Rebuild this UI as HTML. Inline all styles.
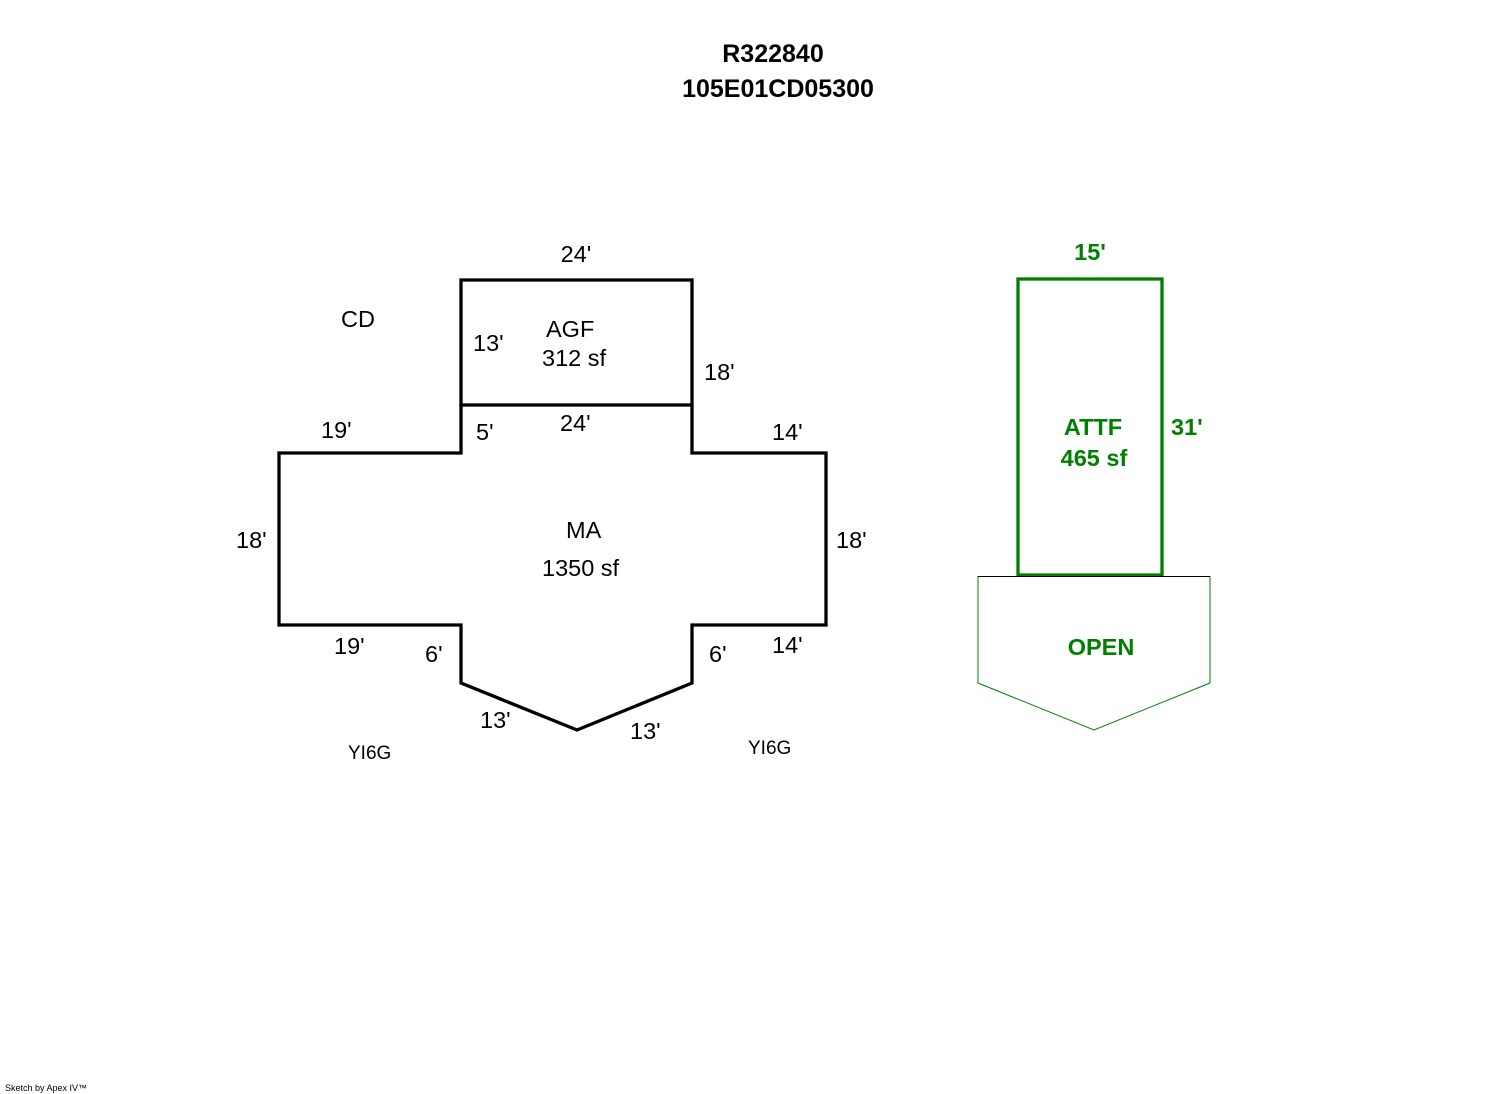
<!DOCTYPE html>
<html><head><meta charset="utf-8"><style>
html,body{margin:0;padding:0;background:#fff;}
svg{display:block;}
text{font-family:"Liberation Sans",Arial,sans-serif;}
</style></head><body>
<svg width="1492" height="1094" viewBox="0 0 1492 1094" xmlns="http://www.w3.org/2000/svg">
<rect width="1492" height="1094" fill="#fff"/>
<text x="773" y="62" font-size="25" font-weight="bold" text-anchor="middle">R322840</text>
<text x="778" y="97" font-size="25" font-weight="bold" text-anchor="middle">105E01CD05300</text>

<g fill="none" stroke="#000" stroke-width="3.3" stroke-linejoin="miter">
<rect x="461" y="280" width="231" height="125"/>
<polyline points="461,405 461,453 279,453 279,625 461,625 461,683 577,730 692,683 692,625 826,625 826,453 692,453 692,405"/>
</g>

<g font-size="23.5" fill="#000">
<text x="576" y="262" text-anchor="middle">24'</text>
<text x="341" y="327">CD</text>
<text x="546" y="337">AGF</text>
<text x="473" y="351">13'</text>
<text x="542" y="366">312 sf</text>
<text x="704" y="380">18'</text>
<text x="321" y="438">19'</text>
<text x="476" y="440">5'</text>
<text x="560" y="431">24'</text>
<text x="772" y="440">14'</text>
<text x="236" y="548">18'</text>
<text x="836" y="548">18'</text>
<text x="566" y="538">MA</text>
<text x="542" y="576">1350 sf</text>
<text x="334" y="654">19'</text>
<text x="425" y="662">6'</text>
<text x="709" y="662">6'</text>
<text x="772" y="653">14'</text>
<text x="480" y="728">13'</text>
<text x="630" y="739">13'</text>
</g>
<g font-size="19" fill="#000">
<text x="348" y="759">YI6G</text>
<text x="748" y="754">YI6G</text>
</g>

<rect x="1018" y="279" width="144" height="296" fill="none" stroke="#008000" stroke-width="3.3"/>
<polyline points="978,576 978,683 1094,730 1210,683 1210,576" fill="none" stroke="#008000" stroke-width="1"/>
<line x1="978" y1="576.5" x2="1210" y2="576.5" stroke="#000" stroke-width="1"/>

<g font-size="23.5" font-weight="bold" fill="#008000">
<text x="1090" y="260" text-anchor="middle">15'</text>
<text x="1171" y="435">31'</text>
<text x="1093" y="435" text-anchor="middle">ATTF</text>
<text x="1094" y="466" text-anchor="middle">465 sf</text>
<text x="1101" y="655" text-anchor="middle">OPEN</text>
</g>
<text x="5" y="1091" font-size="9" fill="#000">Sketch by Apex IV™</text>
</svg>
</body></html>
